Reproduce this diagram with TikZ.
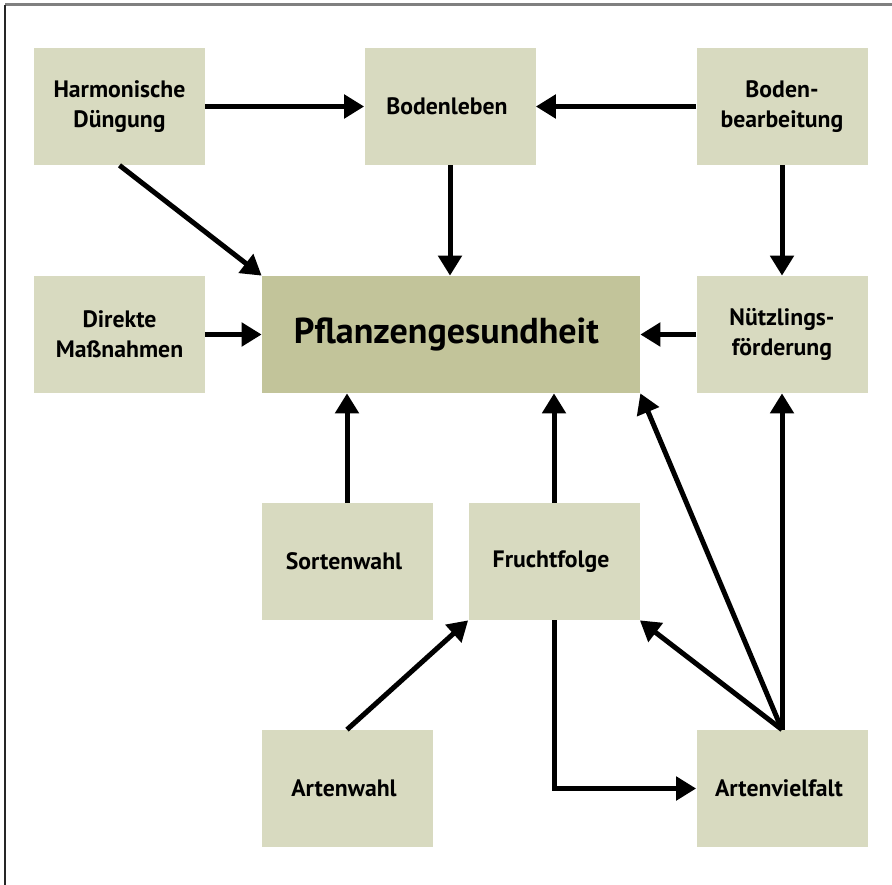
\documentclass[tikz,border=0pt]{standalone}
\usepackage{fontspec}
\setmainfont{PT Sans}
\usepackage{tikz}
\usetikzlibrary{positioning,arrows.meta}

\definecolor{boxgreen}{RGB}{216,218,192}
\definecolor{maingreen}{RGB}{194,196,154}

\begin{document}
\begin{tikzpicture}[
    box/.style = { fill = boxgreen, align = center, minimum width = 3.42cm,
                   minimum height = 2.34cm, inner sep = 0pt,
                   font = \fontsize{13.5}{17}\selectfont\bfseries },
    mainbox/.style = { box, fill = maingreen, minimum width = 7.56cm,
                   font = \fontsize{20.5}{25}\selectfont\bfseries },
    pfeil/.style = { line width = 0.1cm,
                   -{Triangle[length = 0.4cm, width = 0.46cm]} }
  ]
  \useasboundingbox (0,0) rectangle (17.84,-17.7);
  % frame
  \draw[gray, line width = 0.06cm] (0.1,-0.1) -- (17.84,-0.1);
  \draw[black!85, line width = 0.05cm] (0.1,-0.1) -- (0.1,-17.7);

  % top row
  \node[box] (harm) at (2.39,-2.13) { Harmonische \\ Düngung };
  \node[box] (leben) at (9.0,-2.13) { Bodenleben };
  \node[box] (bearb) at (15.64,-2.13) { Boden- \\ bearbeitung };

  % middle row
  \node[mainbox] (pflanz) at (9.02,-6.69) { Pflanzengesundheit };
  \node[box] (direkt) at (2.39,-6.69) { Direkte \\ Maßnahmen };
  \node[box] (nuetz) at (15.64,-6.69) { Nützlings- \\ förderung };

  % lower rows
  \node[box] (sorten) at (6.94,-11.23) { Sortenwahl };
  \node[box] (frucht) at (11.08,-11.23) { Fruchtfolge };
  \node[box] (artwahl) at (6.94,-15.77) { Artenwahl };
  \node[box] (vielfalt) at (15.64,-15.77) { Artenvielfalt };

  % connectors
  \draw[pfeil] (harm) -- (leben);
  \draw[pfeil] (bearb) -- (leben);
  \draw[pfeil] (harm.south) -- (pflanz.north west);
  \draw[pfeil] (leben) -- (leben |- pflanz.north);
  \draw[pfeil] (bearb) -- (nuetz);
  \draw[pfeil] (direkt) -- (pflanz);
  \draw[pfeil] (nuetz) -- (pflanz);
  \draw[pfeil] (sorten) -- (sorten |- pflanz.south);
  \draw[pfeil] (frucht) -- (frucht |- pflanz.south);
  \draw[pfeil] (vielfalt.north) -- (pflanz.south east);
  \draw[pfeil] (vielfalt) -- (nuetz);
  \draw[pfeil] (vielfalt.north) -- (frucht.south east);
  \draw[pfeil] (artwahl.north) -- (frucht.south west);
  \draw[pfeil] (frucht.south) |- (vielfalt.west);
\end{tikzpicture}
\end{document}
